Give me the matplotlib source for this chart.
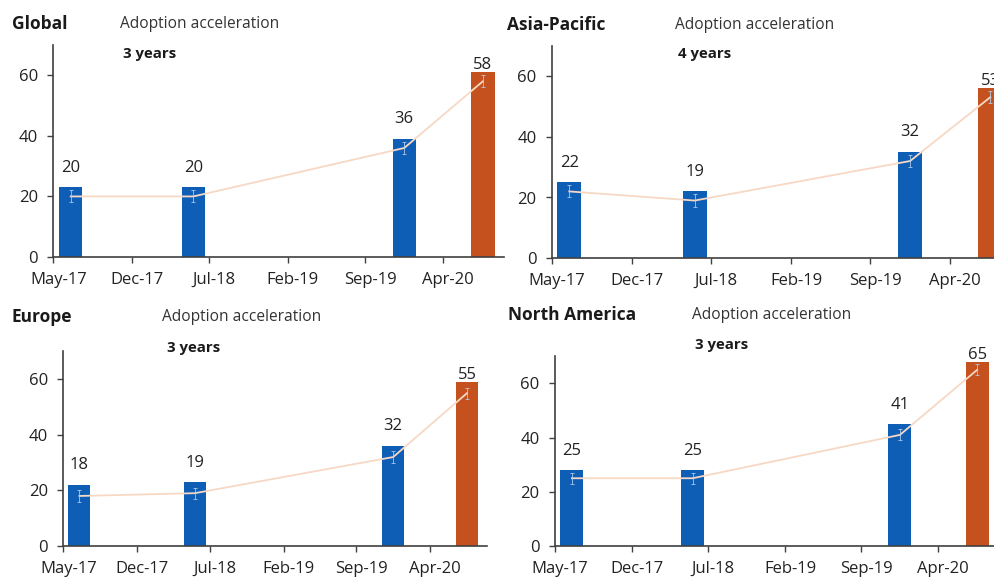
import matplotlib
matplotlib.use("Agg")
import matplotlib.pyplot as plt
import matplotlib.dates as mdates
from matplotlib.transforms import ScaledTranslation
import pandas as pd

plt.rcParams["font.family"] = ["Open Sans", "DejaVu Sans"]

# survey waves (bar centres on a date axis)
survey_dates = ["2017-06-17", "2018-05-19", "2019-12-17", "2020-07-19"]
tick_labels = ["May-17", "Dec-17", "Jul-18", "Feb-19", "Sep-19", "Apr-20"]

regions = ["Global", "Asia-Pacific", "Europe", "North America"]
accel_years = ["3 years", "4 years", "3 years", "3 years"]

# share of digital interactions (%), trend line values and bar heights
global_share = [20, 20, 36, 58]
global_bars = [23, 23, 39, 61]
apac_share = [22, 19, 32, 53]
apac_bars = [25, 22, 35, 56]
europe_share = [18, 19, 32, 55]
europe_bars = [22, 23, 36, 59]
namerica_share = [25, 25, 41, 65]
namerica_bars = [28, 28, 45, 68]
spread = [2, 2, 2, 2]

BLUE = "#0f5eb6"
ORANGE = "#c5511f"
TREND = "#f7d8c4"
AXIS = "#404040"

W, H = 995, 579
fig = plt.figure(figsize=(W / 100, H / 100), dpi=100)

def px_rect(left, right, top, bottom):
    return [left / W, 1 - bottom / H, (right - left) / W, (bottom - top) / H]

# (axes rect in px, title x, subtitle x, years x, title y, years y)
layout = [
    (px_rect(53.5, 504, 45, 257), 12, 120, 123, 24, 54),
    (px_rect(551.7, 1012, 45.5, 258.3), 507, 675, 678, 25, 54),
    (px_rect(63.3, 487, 351.4, 546), 12, 162, 167, 317, 348),
    (px_rect(555, 998, 356.3, 546), 508, 692, 695, 315, 345),
]
shares = [global_share, apac_share, europe_share, namerica_share]
bars = [global_bars, apac_bars, europe_bars, namerica_bars]

x = mdates.date2num(pd.to_datetime(survey_dates))
ticks = mdates.date2num(pd.to_datetime(tick_labels, format="%b-%y"))
x_lo = mdates.date2num(pd.Timestamp("2017-05-01"))
x_hi = mdates.date2num(pd.Timestamp("2020-09-15"))
nudge = ScaledTranslation(5 / 100, 0, fig.dpi_scale_trans)

for i, region in enumerate(regions):
    rect, tx, sx, yx, ty, yy = layout[i]
    ax = fig.add_axes(rect)
    colors = [BLUE] * (len(x) - 1) + [ORANGE]
    ax.bar(x, bars[i], width=64, color=colors, zorder=2)
    ax.plot(x, shares[i], color=TREND, lw=1.3, zorder=3)
    ax.errorbar(x, shares[i], yerr=spread, fmt="none", ecolor="#b4d0ee",
                elinewidth=0.7, capsize=1.5, capthick=0.7, alpha=0.8, zorder=3)
    for j in range(len(x)):
        dy = 5 if j == len(x) - 1 else 14
        ax.annotate(str(shares[i][j]), (x[j], bars[i][j]), xytext=(0, dy),
                    textcoords="offset points", ha="center", va="center",
                    fontsize=12, color="#222222", zorder=4)

    ax.set_xlim(x_lo, x_hi)
    ax.set_ylim(0, 70)
    ax.set_yticks([0, 20, 40, 60])
    ax.set_xticks(ticks, tick_labels)
    ax.tick_params(labelsize=12, colors="#222222", length=4, width=1, color=AXIS)
    ax.tick_params(axis="x", pad=6.5)
    ax.tick_params(axis="y", pad=7)
    for lbl in ax.get_xticklabels():
        lbl.set_transform(lbl.get_transform() + nudge)
    for side in ["top", "right"]:
        ax.spines[side].set_visible(False)
    for side in ["left", "bottom"]:
        ax.spines[side].set_color(AXIS)
        ax.spines[side].set_linewidth(1.2)
    ax.set_facecolor("none")

    fig.text(tx / W, 1 - ty / H, region, fontsize=12.5, fontweight="bold",
             color="#1a1a1a", va="center")
    fig.text(sx / W, 1 - ty / H, "Adoption acceleration", fontsize=11.2,
             color="#333333", va="center")
    fig.text(yx / W, 1 - yy / H, accel_years[i], fontsize=10.8,
             fontweight="bold", color="#1a1a1a", va="center")

fig.savefig("out.png", dpi=100)
